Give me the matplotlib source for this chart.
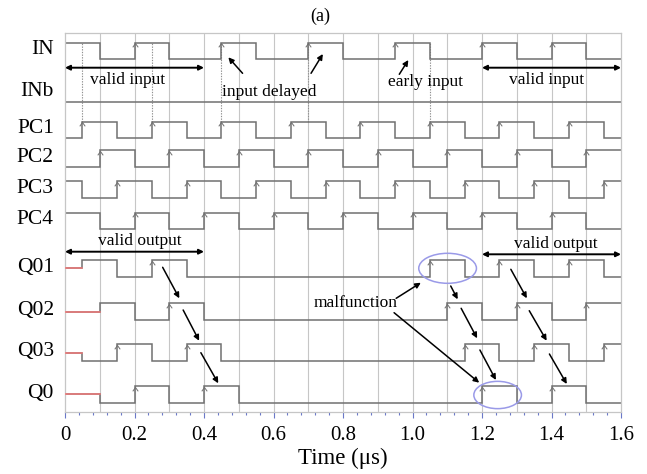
import numpy as np
import matplotlib
matplotlib.use("Agg")
import matplotlib.pyplot as plt
from matplotlib.path import Path
from matplotlib.patches import Ellipse

plt.rcParams['font.family'] = ['Liberation Serif', 'DejaVu Serif']
plt.rcParams['mathtext.fontset'] = 'stix'

# signal waveforms: edge times (us) and logic level between them (0.5 = unknown)
in_t = [0, 0.1, 0.2, 0.3, 0.45, 0.55, 0.7, 0.8, 0.95, 1.05, 1.2, 1.3, 1.4, 1.5, 1.6]
in_v = [1, 0, 1, 0, 1, 0, 1, 0, 1, 0, 1, 0, 1, 0]

inb_t = [0, 1.6]
inb_v = [0]

pc1_t = [0, 0.05, 0.15, 0.25, 0.35, 0.45, 0.55, 0.65, 0.75, 0.85, 0.95, 1.05, 1.15, 1.25, 1.35, 1.45, 1.55, 1.6]
pc1_v = [0, 1, 0, 1, 0, 1, 0, 1, 0, 1, 0, 1, 0, 1, 0, 1, 0]

pc2_t = [0, 0.1, 0.2, 0.3, 0.4, 0.5, 0.6, 0.7, 0.8, 0.9, 1.0, 1.1, 1.2, 1.3, 1.4, 1.5, 1.6]
pc2_v = [0, 1, 0, 1, 0, 1, 0, 1, 0, 1, 0, 1, 0, 1, 0, 1]

pc3_t = [0, 0.05, 0.15, 0.25, 0.35, 0.45, 0.55, 0.65, 0.75, 0.85, 0.95, 1.05, 1.15, 1.25, 1.35, 1.45, 1.55, 1.6]
pc3_v = [1, 0, 1, 0, 1, 0, 1, 0, 1, 0, 1, 0, 1, 0, 1, 0, 1]

pc4_t = [0, 0.1, 0.2, 0.3, 0.4, 0.5, 0.6, 0.7, 0.8, 0.9, 1.0, 1.1, 1.2, 1.3, 1.4, 1.5, 1.6]
pc4_v = [1, 0, 1, 0, 1, 0, 1, 0, 1, 0, 1, 0, 1, 0, 1, 0]

q01_t = [0, 0.05, 0.15, 0.25, 0.35, 1.05, 1.15, 1.25, 1.35, 1.45, 1.55, 1.6]
q01_v = [0.5, 1, 0, 1, 0, 1, 0, 1, 0, 1, 0]

q02_t = [0, 0.1, 0.2, 0.3, 0.4, 1.1, 1.2, 1.3, 1.4, 1.5, 1.6]
q02_v = [0.5, 1, 0, 1, 0, 1, 0, 1, 0, 1]

q03_t = [0, 0.05, 0.15, 0.25, 0.35, 0.45, 1.15, 1.25, 1.35, 1.45, 1.55, 1.6]
q03_v = [0.5, 0, 1, 0, 1, 0, 1, 0, 1, 0, 1]

q0_t = [0, 0.1, 0.2, 0.3, 0.4, 0.5, 1.2, 1.3, 1.4, 1.5, 1.6]
q0_v = [0.5, 0, 1, 0, 1, 0, 1, 0, 1, 0]

names = ['IN', 'INb', 'PC1', 'PC2', 'PC3', 'PC4', 'Q01', 'Q02', 'Q03', 'Q0']
waves = [(in_t, in_v), (inb_t, inb_v), (pc1_t, pc1_v), (pc2_t, pc2_v),
         (pc3_t, pc3_v), (pc4_t, pc4_v), (q01_t, q01_v), (q02_t, q02_v),
         (q03_t, q03_v), (q0_t, q0_v)]

# vertical layout of the rows (baseline of each trace, axis units)
base = [352.7, 310.3, 273.7, 245.3, 214.3, 182.7, 135.3, 92.0, 51.0, 9.3]
amp = 16.7

LINE = '#707070'
GRID = '#c6c6c6'

fig = plt.figure(figsize=(6.47, 4.74), dpi=100)
ax = fig.add_axes([65 / 647, 62 / 474, 556 / 647, 379 / 474])
ax.set_xlim(0, 1.6)
ax.set_ylim(0, 379)

for x in np.arange(0.1, 1.6, 0.1):
    ax.axvline(x, color=GRID, lw=0.8, zorder=0)

chevron = Path([(-1, -1.4), (0, 0), (1, -1.4)], [Path.MOVETO, Path.LINETO, Path.LINETO])

for name, (t, v), b in zip(names, waves, base):
    t = np.array(t)
    v = np.array(v, dtype=float)
    ax.stairs(b + amp * v, t, baseline=None, color=LINE, lw=1.1, zorder=2)
    if v[0] == 0.5:
        # unknown state before the first clock
        ax.plot(t[:2], [b + amp * 0.5] * 2, color='#f07878', lw=1.1, zorder=3)
    # little arrows on rising edges
    rise = [i for i in range(1, len(v)) if v[i] > v[i - 1] and v[i - 1] != 0.5]
    if rise:
        ax.plot(t[rise], [b + amp - 0.8] * len(rise), ls='none', marker=chevron,
                ms=5.5, mew=0.7, mec=LINE, mfc='none', zorder=3)
    ymid = b + 10 if name == 'INb' else b + amp / 2 + 1
    ax.text(-0.02, ymid, name, transform=ax.get_yaxis_transform(),
            ha='right', va='center', fontsize=15.5)

# dotted guides from IN edges down to PC1 sampling edges
for x in [0.05, 0.25, 0.45, 0.7, 1.05]:
    ax.plot([x, x], [base[2] + amp, base[0] + amp], ls=(0, (1.2, 1.2)),
            color='#909090', lw=0.8, zorder=1)

arrow_kw = dict(arrowstyle='-|>', color='black', lw=1.1, mutation_scale=8,
                shrinkA=0, shrinkB=0)
span_kw = dict(arrowstyle='<|-|>', color='black', lw=1.4, mutation_scale=7,
               shrinkA=0, shrinkB=0)

# valid windows
ax.annotate('', xy=(0.0, 344.3), xytext=(0.4, 344.3), arrowprops=span_kw)
ax.annotate('', xy=(1.2, 344.3), xytext=(1.6, 344.3), arrowprops=span_kw)
ax.text(0.18, 332, 'valid input', ha='center', va='center', fontsize=12.5)
ax.text(1.386, 332, 'valid input', ha='center', va='center', fontsize=12.5)

ax.annotate('', xy=(0.0, 160.3), xytext=(0.4, 160.3), arrowprops=span_kw)
ax.annotate('', xy=(1.2, 157.7), xytext=(1.6, 157.7), arrowprops=span_kw)
ax.text(0.216, 171.3, 'valid output', ha='center', va='center', fontsize=12.5)
ax.text(1.412, 168, 'valid output', ha='center', va='center', fontsize=12.5)

ax.text(0.587, 320.3, 'input delayed', ha='center', va='center', fontsize=12.5)
ax.annotate('', xy=(0.470, 354.7), xytext=(0.511, 338.7), arrowprops=arrow_kw)
ax.annotate('', xy=(0.742, 358.0), xytext=(0.708, 338.7), arrowprops=arrow_kw)

ax.text(1.038, 330.3, 'early input', ha='center', va='center', fontsize=12.5)
ax.annotate('', xy=(0.988, 352.0), xytext=(0.962, 337.7), arrowprops=arrow_kw)

ax.text(0.836, 109.3, 'malfunction', ha='center', va='center', fontsize=12.5)
ax.annotate('', xy=(1.024, 129.3), xytext=(0.953, 113.7), arrowprops=arrow_kw)
ax.annotate('', xy=(1.192, 29.3), xytext=(0.947, 99.3), arrowprops=arrow_kw)

ax.add_patch(Ellipse((1.101, 143.7), 0.166, 30, fill=False, ec='#9a9ae8', lw=1.1, zorder=4))
ax.add_patch(Ellipse((1.245, 17.0), 0.137, 27.3, fill=False, ec='#9a9ae8', lw=1.1, zorder=4))

# propagation arrows through the shift register
steps = [((0.281, 144.7), (0.329, 113.7)), ((0.340, 102.0), (0.386, 71.3)),
         ((0.391, 59.3), (0.441, 28.7)), ((1.110, 126.0), (1.130, 112.7)),
         ((1.140, 103.7), (1.186, 73.7)), ((1.194, 62.0), (1.240, 32.0)),
         ((1.283, 142.7), (1.329, 113.7)), ((1.336, 101.3), (1.386, 71.3)),
         ((1.394, 58.0), (1.444, 28.0))]
for a, b2 in steps:
    ax.annotate('', xy=b2, xytext=a, arrowprops=arrow_kw)

ax.set_xticks(np.arange(0, 1.61, 0.2))
ax.set_xticklabels(['0', '0.2', '0.4', '0.6', '0.8', '1.0', '1.2', '1.4', '1.6'])
ax.set_xticks(np.arange(0, 1.61, 0.04), minor=True)
ax.tick_params(axis='x', which='major', direction='out', length=4, width=0.8,
               color='#6a78c8', labelsize=15, pad=6)
ax.tick_params(axis='x', which='minor', direction='out', length=2, width=0.8,
               color='#6a78c8')
ax.set_yticks([])
for s in ax.spines.values():
    s.set_color(GRID)
    s.set_linewidth(0.9)

ax.set_xlabel('Time (\u03bcs)', fontsize=16.5, labelpad=2)
fig.text(320 / 647, 1 - 16 / 474, '(a)', ha='center', va='center', fontsize=13)

fig.savefig('out.png', dpi=100)
